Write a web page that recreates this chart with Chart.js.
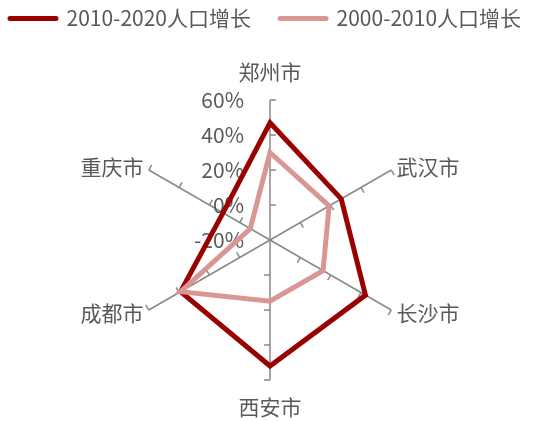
<!DOCTYPE html>
<html>
<head>
<meta charset="utf-8">
<script src="https://cdn.jsdelivr.net/npm/chart.js@4.4.0/dist/chart.umd.min.js"></script>
<style>
  html, body { margin: 0; padding: 0; background: #fff; }
</style>
</head>
<body>
<canvas id="radar" width="541" height="421"></canvas>
<script>
  // dados (% de crescimento populacional)
  const cidades = ["郑州市", "武汉市", "长沙市", "西安市", "成都市", "重庆市"];
  const cresc2010_2020 = [47, 27, 43, 52, 39, 11];
  const cresc2000_2010 = [30, 19, 15, 15, 39, -7];
  const valoresTicks = [-20, 0, 20, 40, 60];

  const corEixo = "#898989";
  const corTexto = "#595959";
  const fonte = '"Noto Sans CJK SC", "Microsoft YaHei", sans-serif';

  Chart.defaults.font.family = fonte;

  // desenha tracinhos, valores do eixo e nomes das cidades
  const eixosRadar = {
    id: "eixosRadar",
    beforeDatasetsDraw(chart) {
      const r = chart.scales.r;
      const ctx = chart.ctx;
      ctx.save();

      ctx.strokeStyle = corEixo;
      ctx.lineWidth = 1.5;
      for (let i = 0; i < cidades.length; i++) {
        let ang = r.getIndexAngle(i) - Math.PI / 2;
        let nx = Math.cos(ang + Math.PI / 2);
        let ny = Math.sin(ang + Math.PI / 2);
        for (let j = 0; j < valoresTicks.length; j++) {
          let v = valoresTicks[j];
          if (v === r.min) continue;
          let p = r.getPointPositionForValue(i, v);
          ctx.beginPath();
          ctx.moveTo(p.x, p.y);
          ctx.lineTo(p.x + nx * 6, p.y + ny * 6);
          ctx.stroke();
        }
      }

      ctx.fillStyle = corTexto;
      ctx.font = "21px " + fonte;
      ctx.textAlign = "right";
      ctx.textBaseline = "middle";
      for (let j = 0; j < valoresTicks.length; j++) {
        let p = r.getPointPositionForValue(0, valoresTicks[j]);
        ctx.fillText(valoresTicks[j] + "%", p.x - 26, p.y);
      }

      for (let i = 0; i < cidades.length; i++) {
        let ang = r.getIndexAngle(i) - Math.PI / 2;
        let cx = Math.cos(ang);
        let extra = 6;
        if (Math.abs(cx) < 0.1) {
          ctx.textAlign = "center";
          extra = Math.sin(ang) < 0 ? 28 : 27;
        } else {
          ctx.textAlign = cx > 0 ? "left" : "right";
        }
        let p = r.getPointPosition(i, r.drawingArea + extra);
        ctx.fillText(cidades[i], p.x, p.y);
      }
      ctx.restore();
    }
  };

  const ctx = document.getElementById("radar").getContext("2d");
  const grafico = new Chart(ctx, {
    type: "radar",
    data: {
      labels: cidades,
      datasets: [
        {
          label: "2010-2020人口增长",
          data: cresc2010_2020,
          borderColor: "#990000",
          pointBorderColor: "#990000",
          borderWidth: 5,
          pointBorderWidth: 5,
          borderJoinStyle: "miter",
          fill: false,
          pointRadius: 0,
          order: 1
        },
        {
          label: "2000-2010人口增长",
          data: cresc2000_2010,
          borderColor: "#d99694",
          pointBorderColor: "#d99694",
          borderWidth: 5,
          pointBorderWidth: 5,
          borderJoinStyle: "miter",
          fill: false,
          pointRadius: 0,
          order: 0
        }
      ]
    },
    options: {
      responsive: false,
      animation: false,
      layout: {
        padding: { top: -21, left: -19, right: -17, bottom: 41 }
      },
      plugins: {
        legend: {
          position: "top",
          align: "start",
          labels: {
            usePointStyle: true,
            pointStyle: "line",
            pointStyleWidth: 46,
            padding: 29,
            color: corTexto,
            font: { size: 21 },
            sort: (a, b) => a.datasetIndex - b.datasetIndex,
            generateLabels: function (chart) {
              let itens = Chart.defaults.plugins.legend.labels.generateLabels(chart);
              itens.forEach(it => { it.lineCap = "round"; it.lineWidth = 5; });
              return itens;
            }
          }
        },
        subtitle: {
          display: true,
          text: "",
          font: { size: 10 },
          padding: { top: 49, bottom: 0 },
          weight: 500
        },
        tooltip: { enabled: false }
      },
      scales: {
        r: {
          min: -20,
          max: 60,
          ticks: { stepSize: 20, display: false },
          grid: { display: false },
          angleLines: { display: true, color: corEixo, lineWidth: 1.5 },
          pointLabels: { display: false }
        }
      }
    },
    plugins: [eixosRadar]
  });
</script>
</body>
</html>
